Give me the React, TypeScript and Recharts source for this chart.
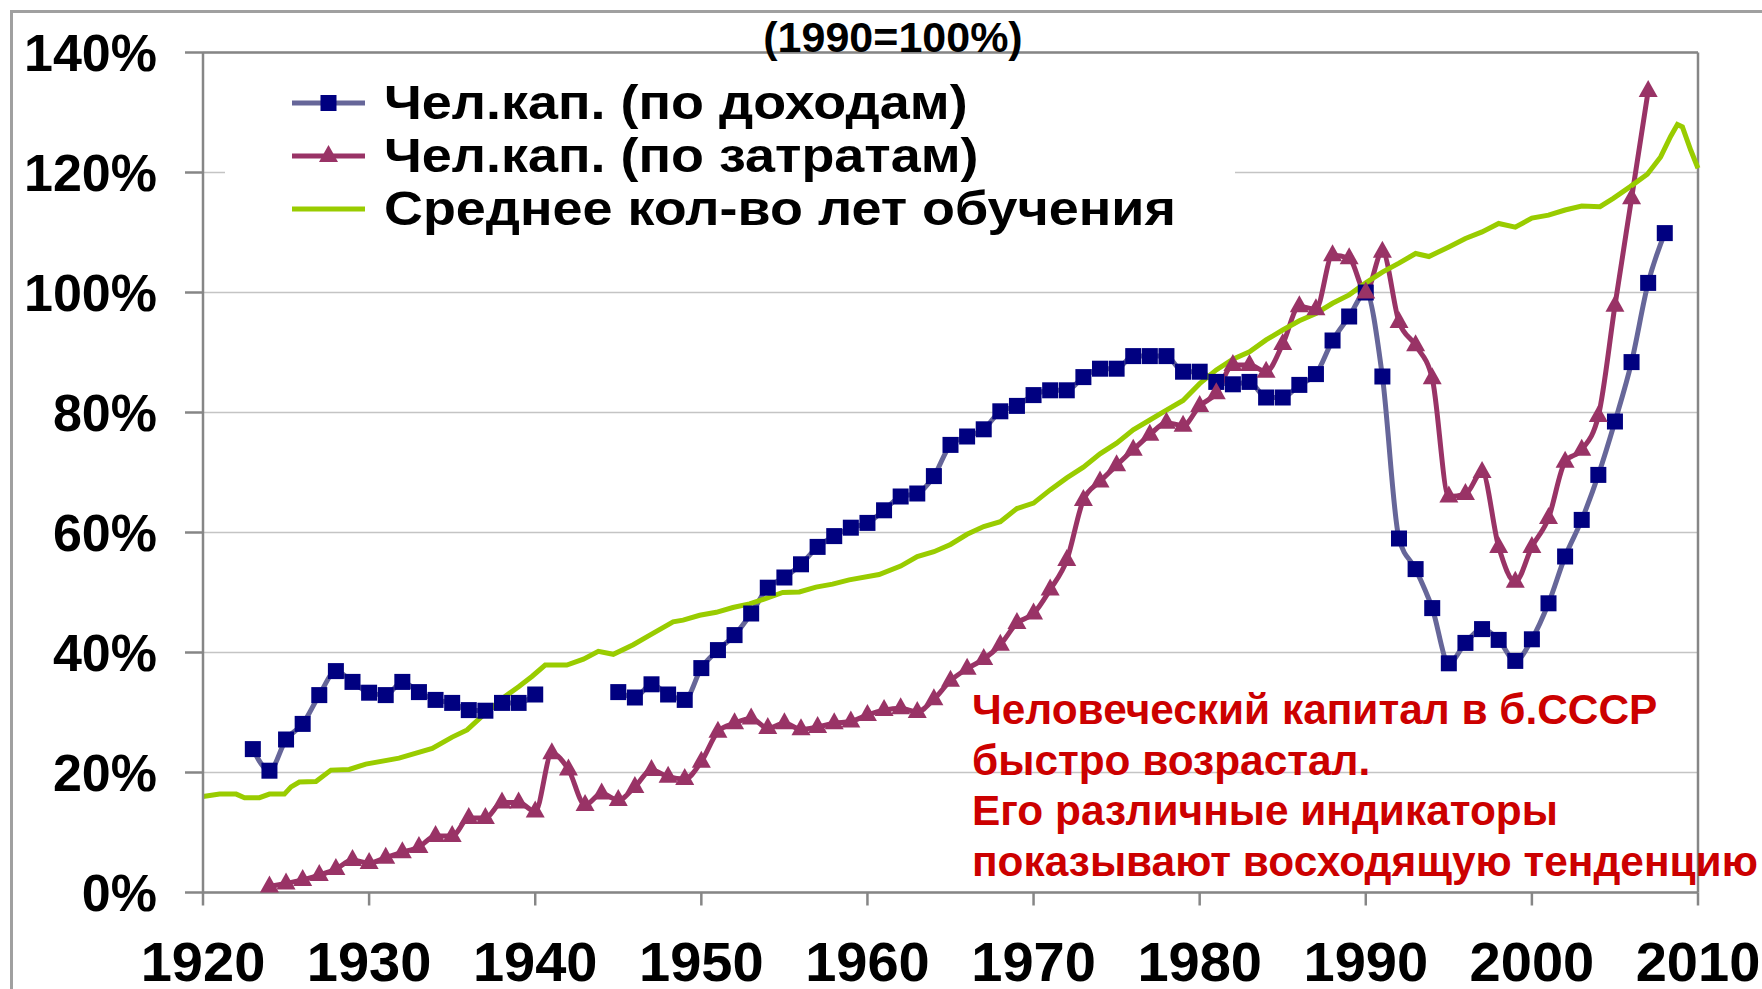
import React from 'react';
import { LineChart, Line, XAxis, YAxis, CartesianGrid, Legend, ReferenceLine } from 'recharts';

const FONT = '"Liberation Sans", Arial, Helvetica, sans-serif';

const xTicks = [1920, 1930, 1940, 1950, 1960, 1970, 1980, 1990, 2000, 2010];
const yTicks = [0, 20, 40, 60, 80, 100, 120, 140];

// Чел.кап. (по доходам), с 1923 г.; null — нет данных (1941–1944)
const incomeFirstYear = 1923;
const incomeValues = [
  23.9, 20.3, 25.5, 28.1, 32.9, 36.9, 35.1, 33.3, 32.9, 35.1, // 1923-1932
  33.4, 32.1, 31.6, 30.4, 30.3, 31.6, 31.6, 33.0, null, null, // 1933-1942
  null, null, 33.4, 32.5, 34.7, 33.0, 32.1, 37.4, 40.4, 42.9, // 1943-1952
  46.5, 50.8, 52.5, 54.7, 57.6, 59.4, 60.8, 61.6, 63.7, 66.0, // 1953-1962
  66.5, 69.4, 74.6, 76.0, 77.2, 80.2, 81.1, 82.9, 83.7, 83.7, // 1963-1972
  85.9, 87.3, 87.3, 89.4, 89.4, 89.4, 86.8, 86.8, 85.1, 84.7, // 1973-1982
  85.1, 82.5, 82.5, 84.6, 86.4, 92.0, 96.0, 100, 86.0, 59.0, // 1983-1992
  53.9, 47.4, 38.2, 41.6, 43.9, 42.1, 38.6, 42.2, 48.2, 56.0, // 1993-2002
  62.1, 69.6, 78.5, 88.4, 101.6, 109.9, // 2003-2008
];

// Чел.кап. (по затратам), с 1924 г.
const costFirstYear = 1924;
const costValues = [
  1.0, 1.5, 2.1, 2.9, 3.9, 5.4, 4.9, 5.8, 6.7, 7.6, // 1924-1933
  9.4, 9.4, 12.4, 12.4, 15.0, 15.0, 13.5, 23.2, 20.5, 14.6, // 1934-1943
  16.5, 15.4, 17.6, 20.4, 19.3, 18.9, 21.8, 26.8, 28.2, 29.0, // 1944-1953
  27.4, 28.2, 27.2, 27.6, 28.2, 28.5, 29.6, 30.4, 30.7, 30.1, // 1954-1963
  32.2, 35.3, 37.3, 38.9, 41.3, 44.9, 46.5, 50.5, 55.4, 65.4, // 1964-1973
  68.5, 71.2, 73.8, 76.3, 78.3, 77.8, 81.1, 83.2, 87.9, 87.9, // 1974-1983
  86.8, 91.4, 97.7, 97.2, 106.2, 105.7, 100, 106.8, 95.1, 91.2, // 1984-1993
  85.7, 66.0, 66.4, 70.1, 57.6, 51.8, 57.6, 62.4, 71.8, 73.8, // 1994-2003
  79.4, 97.8, 115.7, 133.6, // 2004-2007
];

// Среднее кол-во лет обучения
const eduYears = [
  1920, 1921, 1922, 1922.5, 1923.4, 1924, 1924.9, 1925.3, 1925.8, 1926.8,
  1927.7, 1928.8, 1929.8, 1931.8, 1933.8, 1935, 1935.9, 1937, 1938.2, 1939,
  1939.8, 1940.6, 1941.9, 1942.9, 1943.8, 1944.7, 1945.9, 1946.9, 1948.3, 1948.9,
  1949.9, 1950.9, 1951.9, 1952.9, 1953.9, 1954.9, 1955.9, 1956.9, 1957.9, 1958.9,
  1960.7, 1962, 1963, 1964, 1965, 1966, 1967, 1968, 1969, 1970,
  1971, 1972, 1973, 1974, 1975, 1976, 1977, 1978, 1979, 1980,
  1981, 1982, 1983, 1984, 1985, 1986, 1987, 1988, 1989, 1990,
  1991, 1992, 1993, 1993.8, 1995, 1996, 1997, 1998, 1999, 2000,
  2001, 2002, 2003, 2004.1, 2004.9, 2005.9, 2006.95, 2007.75, 2008.35, 2008.76,
  2009.06, 2009.56, 2010,
];
const eduValues = [
  16.0, 16.4, 16.4, 15.8, 15.8, 16.4, 16.4, 17.6, 18.4, 18.5,
  20.4, 20.5, 21.4, 22.4, 24.0, 25.9, 27.1, 29.9, 32.7, 34.3,
  36.0, 37.9, 37.9, 38.9, 40.2, 39.7, 41.3, 42.9, 45.1, 45.4,
  46.2, 46.7, 47.5, 48.1, 49.0, 50.0, 50.1, 50.9, 51.4, 52.1,
  53.0, 54.4, 56.0, 56.8, 58.0, 59.7, 61.0, 61.8, 64.0, 64.9,
  67.1, 69.1, 70.9, 73.1, 74.9, 77.1, 78.75, 80.4, 82.0, 84.8,
  87.1, 88.9, 90.1, 92.1, 93.75, 95.3, 96.5, 98.2, 99.6, 101.6,
  103.4, 104.9, 106.5, 106.0, 107.6, 109.0, 110.1, 111.5, 110.9, 112.4,
  112.9, 113.75, 114.4, 114.3, 115.7, 117.6, 119.7, 122.6, 126.0, 128.0,
  127.6, 123.75, 120.7,
];

const seriesNames = ['Чел.кап. (по доходам)', 'Чел.кап. (по затратам)', 'Среднее кол-во лет обучения'];
const titleText = '(1990=100%)';
const noteLines = [
  'Человеческий капитал в б.СССР',
  'быстро возрастал.',
  'Его различные индикаторы',
  'показывают восходящую тенденцию',
];

const incomeData = incomeValues.map((v, i) => ({ year: incomeFirstYear + i, value: v }));
const costData = costValues.map((v, i) => ({ year: costFirstYear + i, value: v }));
const eduData = eduYears.map((y, i) => ({ year: y, value: eduValues[i] }));

const INCOME_LINE = '#666699';
const INCOME_MARK = '#000080';
const COST = '#993366';
const EDU = '#99cc00';
const AXIS = '#868686';

const SquareDot = (p: any) => {
  const { cx, cy, value } = p;
  if (cx == null || cy == null || value == null) return <g key={p.key} />;
  return <rect key={p.key} x={cx - 8} y={cy - 8} width={16} height={16} fill={INCOME_MARK} />;
};

const TriangleDot = (p: any) => {
  const { cx, cy, value } = p;
  if (cx == null || cy == null || value == null) return <g key={p.key} />;
  return (
    <polygon
      key={p.key}
      points={`${cx},${cy - 11} ${cx + 9.5},${cy + 6} ${cx - 9.5},${cy + 6}`}
      fill={COST}
    />
  );
};

const legendIcons = [
  (
    <g>
      <line x1={0} y1={12} x2={73} y2={12} stroke={INCOME_LINE} strokeWidth={5} />
      <rect x={28.5} y={4} width={16} height={16} fill={INCOME_MARK} />
    </g>
  ),
  (
    <g>
      <line x1={0} y1={12} x2={73} y2={12} stroke={COST} strokeWidth={5} />
      <polygon points="36.5,1 46,18 27,18" fill={COST} />
    </g>
  ),
  (
    <g>
      <line x1={0} y1={12} x2={73} y2={12} stroke={EDU} strokeWidth={5} />
    </g>
  ),
];

const renderLegend = () => (
  <div style={{ background: '#fff', width: 1010, height: 172, paddingTop: 6, boxSizing: 'border-box' }}>
    {seriesNames.map((name, i) => (
      <div key={name} style={{ display: 'flex', alignItems: 'center', height: 53 }}>
        <svg width={73} height={24} style={{ marginLeft: 67, flex: 'none' }}>
          {legendIcons[i]}
        </svg>
        <span
          style={{
            display: 'inline-block',
            marginLeft: 19,
            fontSize: 49,
            fontWeight: 700,
            fontFamily: FONT,
            lineHeight: '53px',
            whiteSpace: 'nowrap',
            color: '#000',
            transform: 'scaleX(1.1)',
            transformOrigin: 'left center',
          }}
        >
          {name}
        </span>
      </div>
    ))}
  </div>
);

export default function App() {
  return (
    <div style={{ position: 'absolute', left: 0, top: 0, width: 1762, height: 989, background: '#fff', overflow: 'hidden' }}>
      <div
        style={{
          position: 'absolute',
          left: 10,
          top: 10,
          width: 1752,
          height: 979,
          borderLeft: '3px solid #a0a0a0',
          borderTop: '3px solid #a0a0a0',
        }}
      />
      <div style={{ position: 'absolute', left: 0, top: 0 }}>
        <LineChart width={1762} height={989} margin={{ top: 52.5, right: 64, bottom: 0, left: 53 }}>
          <CartesianGrid vertical={false} stroke="#c4c4c4" strokeWidth={1.5} />
          <XAxis
            dataKey="year"
            type="number"
            domain={[1920, 2010]}
            ticks={xTicks}
            interval={0}
            height={96.5}
            tickSize={13}
            tickMargin={36}
            axisLine={{ stroke: AXIS, strokeWidth: 2.5 }}
            tickLine={{ stroke: AXIS, strokeWidth: 2.5 }}
            tick={{ fontSize: 56, fontWeight: 700, fill: '#000', fontFamily: FONT }}
          />
          <YAxis
            type="number"
            domain={[0, 140]}
            ticks={yTicks}
            interval={0}
            width={150}
            tickSize={18}
            tickMargin={28}
            tickFormatter={(v: number) => `${v}%`}
            axisLine={{ stroke: AXIS, strokeWidth: 2.5 }}
            tickLine={{ stroke: AXIS, strokeWidth: 2.5 }}
            tick={{ fontSize: 52, fontWeight: 700, fill: '#000', fontFamily: FONT }}
          />
          <ReferenceLine y={140} stroke={AXIS} strokeWidth={2.5} />
          <ReferenceLine x={2010} stroke={AXIS} strokeWidth={2.5} />
          <Legend
            layout="vertical"
            align="center"
            verticalAlign="middle"
            width={1010}
            content={renderLegend}
            wrapperStyle={{ left: 225, top: 70, width: 1010, height: 172, margin: 0 }}
          />
          <Line
            data={incomeData}
            dataKey="value"
            name={seriesNames[0]}
            type="monotone"
            stroke={INCOME_LINE}
            strokeWidth={5}
            dot={SquareDot}
            activeDot={false}
            isAnimationActive={false}
          />
          <Line
            data={costData}
            dataKey="value"
            name={seriesNames[1]}
            type="monotone"
            stroke={COST}
            strokeWidth={5}
            dot={TriangleDot}
            activeDot={false}
            isAnimationActive={false}
          />
          <Line
            data={eduData}
            dataKey="value"
            name={seriesNames[2]}
            type="linear"
            stroke={EDU}
            strokeWidth={5}
            dot={false}
            activeDot={false}
            isAnimationActive={false}
          />
        </LineChart>
      </div>
      <div
        style={{
          position: 'absolute',
          left: 893,
          top: 13,
          transform: 'translateX(-50%)',
          fontFamily: FONT,
          fontWeight: 700,
          fontSize: 43,
          lineHeight: '48px',
          whiteSpace: 'nowrap',
          color: '#000',
        }}
      >
        {titleText}
      </div>
      <div
        style={{
          position: 'absolute',
          left: 972,
          top: 685,
          fontFamily: FONT,
          fontWeight: 700,
          fontSize: 42.4,
          lineHeight: '50.6px',
          whiteSpace: 'nowrap',
          color: '#cc0000',
        }}
      >
        {noteLines.map((t) => (
          <div key={t}>{t}</div>
        ))}
      </div>
    </div>
  );
}
